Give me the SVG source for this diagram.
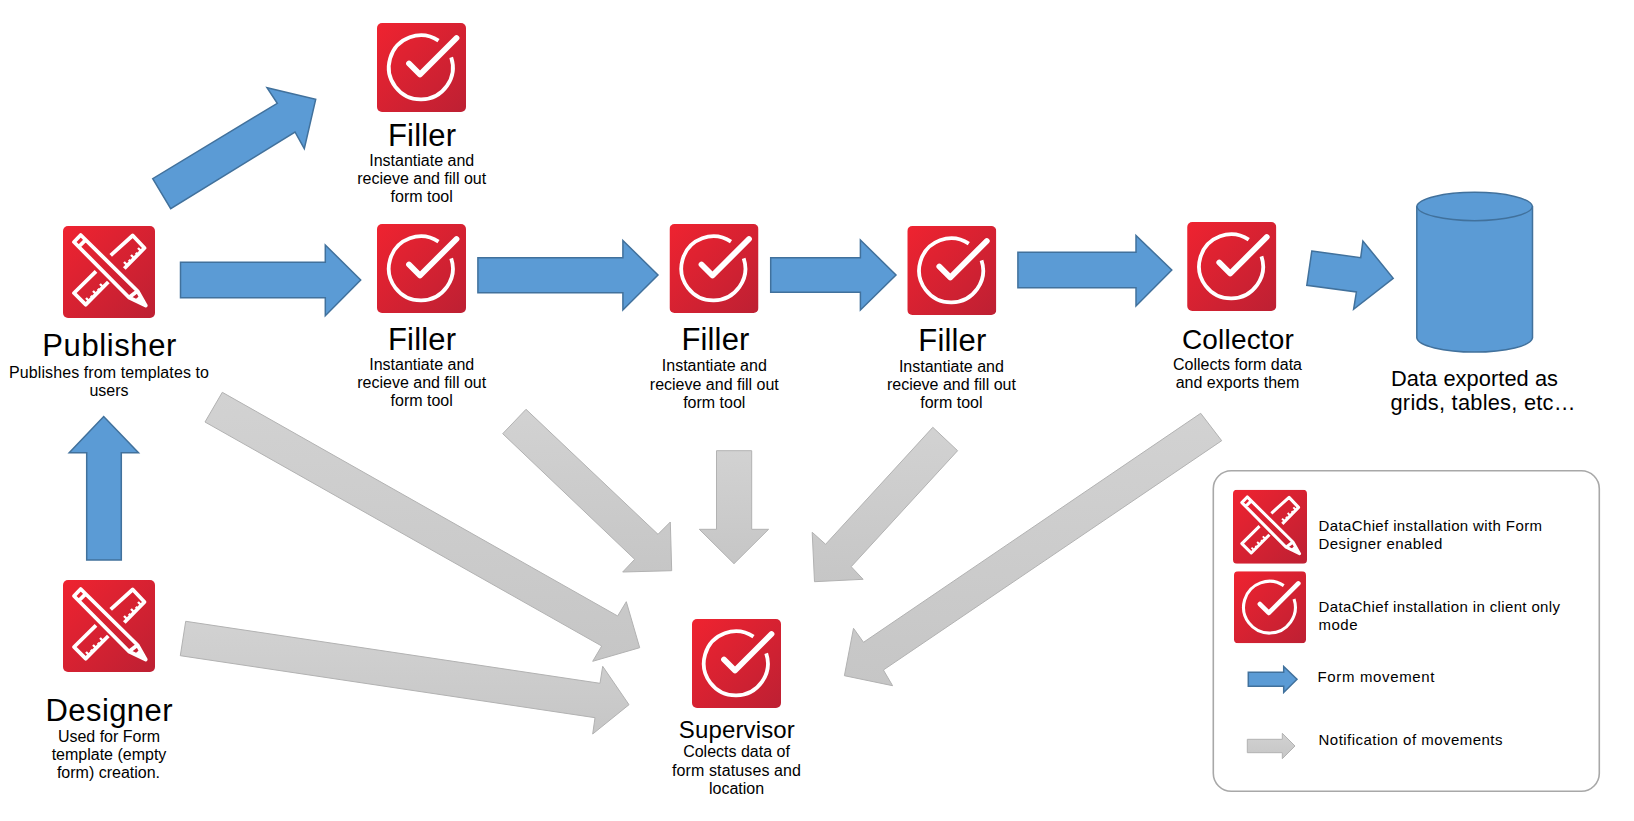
<svg xmlns="http://www.w3.org/2000/svg" xmlns:xlink="http://www.w3.org/1999/xlink" width="1634" height="821" viewBox="0 0 1634 821">
<style>
text{font-family:"Liberation Sans",Arial,sans-serif;fill:#000}
.t{font-size:31px;text-anchor:middle}
.d{font-size:16px;text-anchor:middle}
.l{font-size:15px}
.b{fill:#5b9bd5;stroke:#41719c;stroke-width:1.5;stroke-linejoin:miter}
.g{fill:url(#grey);stroke:#b2b2b2;stroke-width:1}
.w{fill:none;stroke:#fff;stroke-width:3.8;stroke-linejoin:round}
.k{fill:none;stroke:#fff;stroke-width:2.4}
</style>
<defs>
<linearGradient id="grey" x1="0" y1="0" x2="0" y2="1"><stop offset="0" stop-color="#d2d2d2"/><stop offset="1" stop-color="#c6c6c6"/></linearGradient>
<linearGradient id="red" x1="0" y1="0" x2="1" y2="1"><stop offset="0" stop-color="#ef2330"/><stop offset="1" stop-color="#bd2033"/></linearGradient>
<symbol id="check" viewBox="0 0 89 89">
<rect width="89" height="89" rx="5" fill="url(#red)"/>
<path class="w" d="M61.5 17.7A32 32 0 1 0 74.2 34.3"/>
<path d="M32 40.5L43 51.5L79.5 15" fill="none" stroke="#fff" stroke-width="5.8" stroke-linecap="round" stroke-linejoin="round"/>
</symbol>
<symbol id="pencil" viewBox="0 0 92 92">
<rect width="92" height="92" rx="5" fill="url(#red)"/>
<path class="w" d="M47.7 29.3L69.7 9.5L81.5 22L61.3 42.5M33 45.3L11 67L22.7 78.7L45.3 56"/>
<path class="w" d="M17.7 9L74.5 65L82.7 79.5L66 71.5L11 16ZM15.5 21L23.2 13.3M66 71.5L74.5 65"/>
<path d="M73.5 73.5L82.7 79.5L77 70.5Z" fill="#fff" stroke="#fff" stroke-width="1.5"/>
<path class="k" d="M26.5 75.5L23 72M30 72L27.8 69.8M33.5 68.5L30 65M37 65L34.8 62.8M40.5 61.5L37 58M64.5 39.5L61 36M68 36L65.8 33.8M71.5 32.5L68 29M75 29L72.8 26.8M78.5 25.5L75 22"/>
</symbol>
</defs>
<rect width="1634" height="821" fill="#fff"/>

<g id="connectors">
<polygon class="b" points="152.7,178.7 170.7,208.7 295,132 304.3,148.7 315.7,99.3 267,87.7 277.3,103.3"/>
<polygon class="b" points="180.5,262.3 325.3,262.3 325.3,245 360.7,280 325.3,315.7 325.3,297.7 180.5,297.7"/>
<polygon class="b" points="477.9,257.7 622.9,257.7 622.9,240.5 658,275 622.9,310 622.9,292.7 477.9,292.7"/>
<polygon class="b" points="770.7,257.7 860.4,257.7 860.4,240 896,275 860.4,310 860.4,292.3 770.7,292.3"/>
<polygon class="b" points="1017.9,252.3 1136,252.3 1136,235.5 1171.8,270 1136,306 1136,287.7 1017.9,287.7"/>
<polygon class="b" points="1311.8,251 1360.7,257.7 1362.9,241 1393.2,278.3 1353.6,309.3 1356.4,292 1306.8,285.3"/>
<polygon class="b" points="86.7,560 86.7,452.7 69.2,452.7 103.7,416.5 138.5,452.7 121.3,452.7 121.3,560"/>
<polygon class="g" points="222.3,392.3 205,422 601.7,646 592.7,661.3 639.7,647.7 626.3,601.7 617.7,616"/>
<polygon class="g" points="185.7,621.3 180.3,655.7 595,717.7 592.7,734 629,704.7 602.7,666.3 600,683.3"/>
<polygon class="g" points="526,409.3 502.7,433.7 634.7,559.3 622.7,572 671.7,570.7 670.3,522 658,534.3"/>
<polygon class="g" points="716.5,450.7 751.7,450.7 751.7,529.3 768.6,529.3 734,563.7 699.3,529.3 716.5,529.3"/>
<polygon class="g" points="932.8,427.3 957.6,450.7 851.2,566.7 863.1,579.3 814.5,581.7 812.2,532.3 825.6,544.3"/>
<polygon class="g" points="1200.7,413.3 1221.7,440.7 883.4,670 892.6,685.7 844.4,675.7 853.5,628.3 863.5,642.3"/>
</g>

<g id="filler-top">
<use xlink:href="#check" href="#check" x="377" y="23" width="89" height="89"/>
<text class="t" x="422" y="145.5" textLength="68">Filler</text>
<text class="d" x="421.7" y="165.7">Instantiate and</text>
<text class="d" x="421.7" y="183.7">recieve and fill out</text>
<text class="d" x="421.7" y="201.7">form tool</text>
</g>
<g id="publisher">
<use xlink:href="#pencil" href="#pencil" x="63" y="226" width="92" height="92"/>
<text class="t" x="109.3" y="356" textLength="134">Publisher</text>
<text class="d" x="109" y="377.7" textLength="200">Publishes from templates to</text>
<text class="d" x="109" y="395.7">users</text>
</g>
<g id="filler-1">
<use xlink:href="#check" href="#check" x="377" y="224" width="89" height="89"/>
<text class="t" x="422" y="350" textLength="68">Filler</text>
<text class="d" x="421.7" y="370">Instantiate and</text>
<text class="d" x="421.7" y="388">recieve and fill out</text>
<text class="d" x="421.7" y="406">form tool</text>
</g>
<g id="filler-2">
<use xlink:href="#check" href="#check" x="669.5" y="224" width="89" height="89"/>
<text class="t" x="715.4" y="350.3" textLength="68">Filler</text>
<text class="d" x="714.3" y="371">Instantiate and</text>
<text class="d" x="714.3" y="390">recieve and fill out</text>
<text class="d" x="714.3" y="408">form tool</text>
</g>
<g id="filler-3">
<use xlink:href="#check" href="#check" x="907.3" y="226" width="89" height="89"/>
<text class="t" x="952.3" y="351.3" textLength="68">Filler</text>
<text class="d" x="951.4" y="372">Instantiate and</text>
<text class="d" x="951.4" y="390">recieve and fill out</text>
<text class="d" x="951.4" y="408">form tool</text>
</g>
<g id="collector">
<use xlink:href="#check" href="#check" x="1187" y="222" width="89.5" height="89"/>
<text class="t" style="font-size:28px" x="1237.9" y="349" textLength="112">Collector</text>
<text class="d" x="1237.5" y="370">Collects form data</text>
<text class="d" x="1237.5" y="388">and exports them</text>
</g>
<g id="data">
<path class="b" d="M1416.8 206.5V337.9A57.9 14.8 0 0 0 1532.5 337.9V206.5A57.9 14.8 0 0 0 1416.8 206.5Z"/>
<path class="b" style="fill:none" d="M1416.8 206.5A57.9 14.8 0 0 0 1532.5 206.5"/>
<text style="font-size:21.8px" x="1391" y="386" textLength="167">Data exported as</text>
<text style="font-size:21.8px" x="1390.5" y="410" textLength="185">grids, tables, etc…</text>
</g>
<g id="designer">
<use xlink:href="#pencil" href="#pencil" x="63" y="580" width="92" height="92"/>
<text class="t" x="109" y="721" textLength="127">Designer</text>
<text class="d" x="109" y="741.7">Used for Form</text>
<text class="d" x="109" y="760">template (empty</text>
<text class="d" x="108.5" y="777.7">form) creation.</text>
</g>
<g id="supervisor">
<use xlink:href="#check" href="#check" x="692" y="619" width="89" height="89"/>
<text class="t" style="font-size:24px" x="736.8" y="738.3" textLength="116">Supervisor</text>
<text class="d" x="736.5" y="757.3">Colects data of</text>
<text class="d" x="736.5" y="776.3" textLength="129">form statuses and</text>
<text class="d" x="736.5" y="794.3">location</text>
</g>
<g id="legend">
<rect x="1213.3" y="470.7" width="386" height="320.6" rx="18" fill="#fff" stroke="#a8a8a8" stroke-width="1.6"/>
<use xlink:href="#pencil" href="#pencil" x="1233" y="489.7" width="74" height="74"/>
<use xlink:href="#check" href="#check" x="1234" y="571.3" width="72" height="72"/>
<polygon class="b" points="1248.3,672.3 1283.7,672.3 1283.7,666.5 1297,679.3 1283.7,692.5 1283.7,686.3 1248.3,686.3"/>
<polygon class="g" points="1247.3,739.3 1282.3,739.3 1282.3,733.3 1295,746 1282.3,758.7 1282.3,752.7 1247.3,752.7"/>
<text class="l" x="1318.5" y="531" textLength="223.5">DataChief installation with Form</text>
<text class="l" x="1318.5" y="548.8" textLength="123.8">Designer enabled</text>
<text class="l" x="1318.5" y="611.5" textLength="241.5">DataChief installation in client only</text>
<text class="l" x="1318.5" y="629.5" textLength="39">mode</text>
<text class="l" x="1317.5" y="682.3" textLength="117">Form movement</text>
<text class="l" x="1318.5" y="744.5" textLength="184">Notification of movements</text>
</g>
</svg>
